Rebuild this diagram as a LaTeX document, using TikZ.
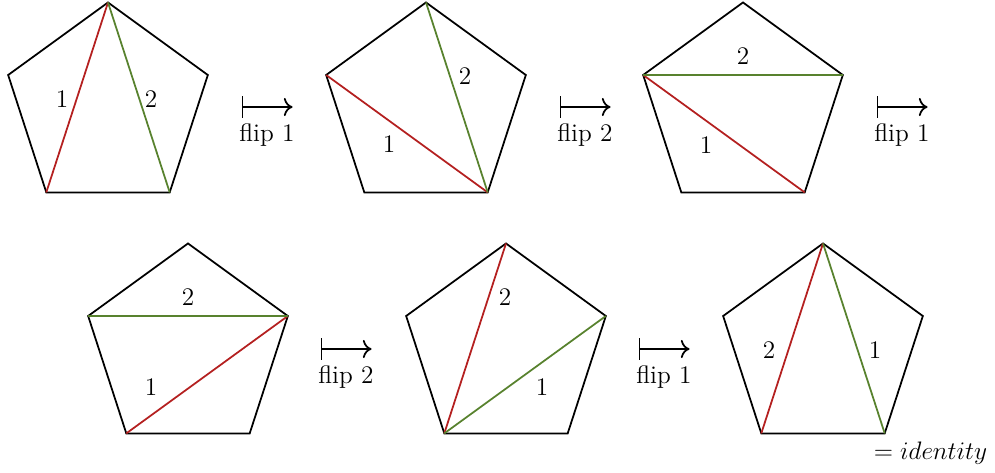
\documentclass[tikz,border=0pt]{standalone}
\usepackage{tikz}
\usetikzlibrary{shapes.geometric, positioning, calc, arrows.meta}
\definecolor{flipred}{RGB}{180,32,32}
\definecolor{flipgreen}{RGB}{88,130,46}
\tikzset{
  pent/.style={regular polygon, regular polygon sides=5, minimum size=4.2cm,
               inner sep=0pt, outer sep=0pt, draw, line width=1pt},
  diagone/.style={draw=flipred, line width=1pt},
  diagtwo/.style={draw=flipgreen, line width=1pt},
  num/.style={font=\Large, inner sep=0pt},
  mapsto/.style={{Bar[width=4.4mm]}-{To[scale=1.3]}, line width=1pt},
  fliplbl/.style={font=\Large, below=5.5pt}
}

\begin{document}
\begin{tikzpicture}[x=0.02cm, y=-0.02cm]
  \useasboundingbox (0,0) rectangle (995,473);

  % row 1
  \node[pent] (p1) at (108,107.45) {};
  \node[pent] (p2) at (426,107.45) {};
  \node[pent] (p3) at (743,107.45) {};
  % row 2
  \node[pent] (p4) at (188,348.45) {};
  \node[pent] (p5) at (506,348.45) {};
  \node[pent] (p6) at (823,348.45) {};

  % diagonals
  \draw[diagone] (p1.corner 1) -- (p1.corner 3);
  \draw[diagtwo] (p1.corner 1) -- (p1.corner 4);
  \draw[diagone] (p2.corner 2) -- (p2.corner 4);
  \draw[diagtwo] (p2.corner 1) -- (p2.corner 4);
  \draw[diagone] (p3.corner 2) -- (p3.corner 4);
  \draw[diagtwo] (p3.corner 2) -- (p3.corner 5);
  \draw[diagone] (p4.corner 5) -- (p4.corner 3);
  \draw[diagtwo] (p4.corner 2) -- (p4.corner 5);
  \draw[diagone] (p5.corner 1) -- (p5.corner 3);
  \draw[diagtwo] (p5.corner 5) -- (p5.corner 3);
  \draw[diagone] (p6.corner 1) -- (p6.corner 3);
  \draw[diagtwo] (p6.corner 1) -- (p6.corner 4);

  % labels
  \node[num] (n1a) at ($(p1)+(-46,-8)$) {1};
  \node[num] (n1b) at ($(p1)+(43,-8)$) {2};
  \node[num] (n2a) at ($(p2)+(-37,37)$) {1};
  \node[num] (n2b) at ($(p2)+(39,-31)$) {2};
  \node[num] (n3a) at ($(p3)+(-37,38)$) {1};
  \node[num] (n3b) at ($(p3)+(0,-51)$) {2};
  \node[num] (n4a) at ($(p4)+(-37,39)$) {1};
  \node[num] (n4b) at ($(p4)+(0,-51)$) {2};
  \node[num] (n5a) at ($(p5)+(36,39)$) {1};
  \node[num] (n5b) at ($(p5)+(-1,-51)$) {2};
  \node[num] (n6a) at ($(p6)+(52,2)$) {1};
  \node[num] (n6b) at ($(p6)+(-54,2)$) {2};

  % flips
  \foreach \i/\x/\y/\k in {1/267/107/1, 2/585/107/2, 3/902/107/1, 4/346/349/2, 5/664/349/1} {
    \coordinate (s\i) at (\x-25.5,\y);
    \coordinate (e\i) at (\x+25.5,\y);
    \draw[mapsto] (s\i) -- (e\i) node[fliplbl, midway] (f\i) {flip \k};
  }

  \node[font=\Large] (ident) at (927,453) {${}=identity$};
\end{tikzpicture}
\end{document}
